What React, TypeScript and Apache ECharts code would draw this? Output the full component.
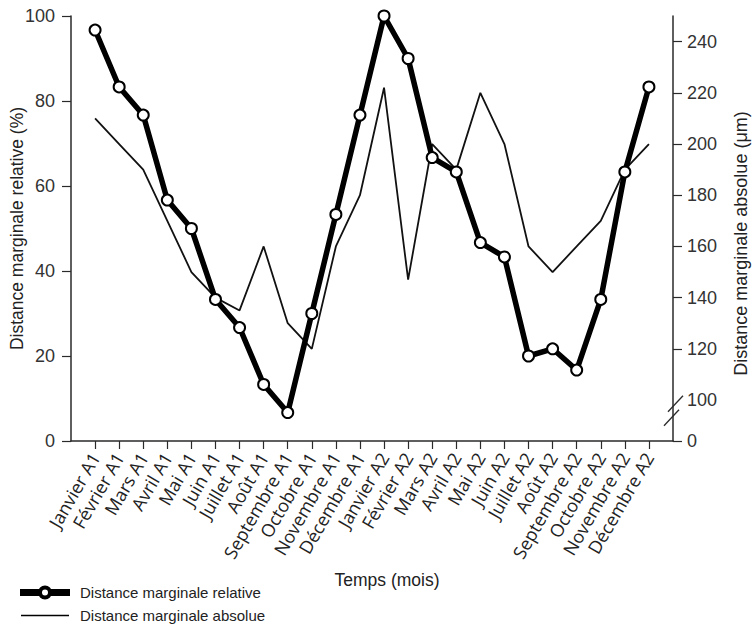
import React, { useEffect, useRef } from "react";
import * as echarts from "echarts";

const months = [
  "Janvier A1", "Février A1", "Mars A1", "Avril A1", "Mai A1", "Juin A1",
  "Juillet A1", "Août A1", "Septembre A1", "Octobre A1", "Novembre A1", "Décembre A1",
  "Janvier A2", "Février A2", "Mars A2", "Avril A2", "Mai A2", "Juin A2",
  "Juillet A2", "Août A2", "Septembre A2", "Octobre A2", "Novembre A2", "Décembre A2",
];

const relative = [
  96.7, 83.3, 76.7, 56.7, 50, 33.3, 26.7, 13.3, 6.7, 30, 53.3, 76.7,
  100, 90, 66.7, 63.3, 46.7, 43.3, 20, 21.7, 16.7, 33.3, 63.3, 83.3,
];

const absolute = [
  210, 200, 190, 170, 150, 140, 135, 160, 130, 120, 160, 180,
  222, 147, 200, 190, 220, 200, 160, 150, 160, 170, 190, 200,
];

const leftTicks = [0, 20, 40, 60, 80, 100];
// right axis: broken between 0 and 100; the bottom of the axis stands for 0
const rightBottom = 84;
const rightTop = 250;
const rightTicks = [120, 140, 160, 180, 200, 220, 240];

const FONT = "'Liberation Sans', Arial, sans-serif";
const LABEL_FONT = "'Open Sans', 'Noto Sans', sans-serif";
const AXIS_COLOR = "#2a2a2a";

const REL_NAME = "Distance marginale relative";
const ABS_NAME = "Distance marginale absolue";

export default function App() {
  const ref = useRef<HTMLDivElement>(null);

  useEffect(() => {
    if (!ref.current) return;
    const chart = echarts.init(ref.current, undefined, { renderer: "svg" });

    const relData = relative.map((v, i) => [i + 1, v]);
    const absData = absolute.map((v, i) => [i + 1, v]);

    chart.setOption({
      animation: false,
      backgroundColor: "#fff",
      grid: {
        left: 71,
        right: 81,
        top: 16,
        bottom: 186,
        containLabel: false,
        outerBoundsMode: "none",
      },
      legend: {
        orient: "vertical",
        left: 20,
        top: 585,
        padding: 0,
        itemWidth: 48,
        itemHeight: 15,
        itemGap: 8,
        textStyle: { fontFamily: FONT, fontSize: 15, color: "#222", padding: [0, 0, 0, 6] },
        data: [
          {
            name: REL_NAME,
            icon:
              "path://M0,5 L19,5 L19,10 L0,10 Z M29,5 L48,5 L48,10 L29,10 Z " +
              "M24,1.5 A6,6 0 1 0 24,13.5 A6,6 0 1 0 24,1.5 Z " +
              "M24,3.5 A4,4 0 1 1 24,11.5 A4,4 0 1 1 24,3.5 Z",
            itemStyle: { color: "#000" },
          },
          {
            name: ABS_NAME,
            icon: "path://M0,6.7 L48,6.7 L48,8.3 L0,8.3 Z M0,0 L0,0 M0,15 L0,15",
            itemStyle: { color: "#000" },
          },
        ],
      },
      xAxis: {
        type: "value",
        min: 0,
        max: 25,
        interval: 1,
        name: "Temps (mois)",
        nameLocation: "middle",
        nameGap: 130,
        nameMoveOverlap: false,
        nameTextStyle: { fontFamily: FONT, fontSize: 17.5, color: "#222", padding: [0, 0, 0, 30] },
        axisLine: { show: true, lineStyle: { color: AXIS_COLOR, width: 1.5 } },
        axisTick: {
          show: true,
          length: 8,
          customValues: months.map((_, i) => i + 1),
          lineStyle: { color: AXIS_COLOR, width: 1.2 },
        },
        axisLabel: {
          rotate: 60,
          margin: 13,
          customValues: months.map((_, i) => i + 1),
          formatter: (v: number) => months[v - 1] ?? "",
          fontFamily: LABEL_FONT,
          fontSize: 18,
          color: "#222",
        },
        splitLine: { show: false },
      },
      yAxis: [
        {
          type: "value",
          min: 0,
          max: 100,
          interval: 20,
          position: "left",
          name: "Distance marginale relative (%)",
          nameLocation: "middle",
          nameRotate: 90,
          nameGap: 45,
          nameMoveOverlap: false,
          nameTextStyle: { fontFamily: FONT, fontSize: 17.5, color: "#222" },
          axisLine: { show: true, lineStyle: { color: AXIS_COLOR, width: 1.5 } },
          axisTick: { show: true, length: 9, lineStyle: { color: AXIS_COLOR, width: 1.2 } },
          axisLabel: {
            margin: 16,
            customValues: leftTicks,
            fontFamily: FONT,
            fontSize: 18,
            color: "#333",
          },
          splitLine: { show: false },
        },
        {
          type: "value",
          min: rightBottom,
          max: rightTop,
          position: "right",
          name: "Distance marginale absolue (μm)",
          nameLocation: "middle",
          nameRotate: 90,
          nameGap: 59,
          nameMoveOverlap: false,
          nameTextStyle: { fontFamily: FONT, fontSize: 18, color: "#222", padding: [0, 30, 0, 0] },
          axisLine: { show: true, lineStyle: { color: AXIS_COLOR, width: 1.5 } },
          axisTick: {
            show: true,
            length: 9,
            customValues: [rightBottom, ...rightTicks],
            lineStyle: { color: AXIS_COLOR, width: 1.2 },
          },
          axisLabel: {
            margin: 14,
            customValues: [rightBottom, 100, ...rightTicks],
            formatter: (v: number) => (v === rightBottom ? "0" : String(v)),
            fontFamily: FONT,
            fontSize: 18,
            color: "#333",
          },
          splitLine: { show: false },
        },
      ],
      series: [
        {
          name: ABS_NAME,
          type: "line",
          yAxisIndex: 1,
          data: absData,
          symbol: "none",
          lineStyle: { color: "#111", width: 1.8 },
          itemStyle: { color: "#111" },
          z: 2,
        },
        {
          name: REL_NAME,
          type: "line",
          yAxisIndex: 0,
          data: relData,
          symbol: "circle",
          symbolSize: 11,
          showSymbol: true,
          lineStyle: { color: "#000", width: 5.5 },
          itemStyle: { color: "#fff", borderColor: "#000", borderWidth: 2 },
          z: 3,
        },
      ],
    });

    // axis break marks on the right axis, placed through the axis scale
    const p = chart.convertToPixel({ xAxisIndex: 0, yAxisIndex: 1 }, [25, 97]) as number[];
    if (p) {
      const [x, y] = p;
      chart.setOption({
        graphic: [
          {
            type: "line",
            shape: { x1: x - 5, y1: y + 4, x2: x + 10, y2: y - 12 },
            style: { stroke: AXIS_COLOR, lineWidth: 1.3 },
          },
          {
            type: "line",
            shape: { x1: x - 9, y1: y + 18, x2: x + 6, y2: y + 2 },
            style: { stroke: AXIS_COLOR, lineWidth: 1.3 },
          },
        ],
      });
    }

    return () => chart.dispose();
  }, []);

  return (
    <div
      ref={ref}
      style={{ position: "fixed", left: 0, top: 0, width: 754, height: 627 }}
    />
  );
}
